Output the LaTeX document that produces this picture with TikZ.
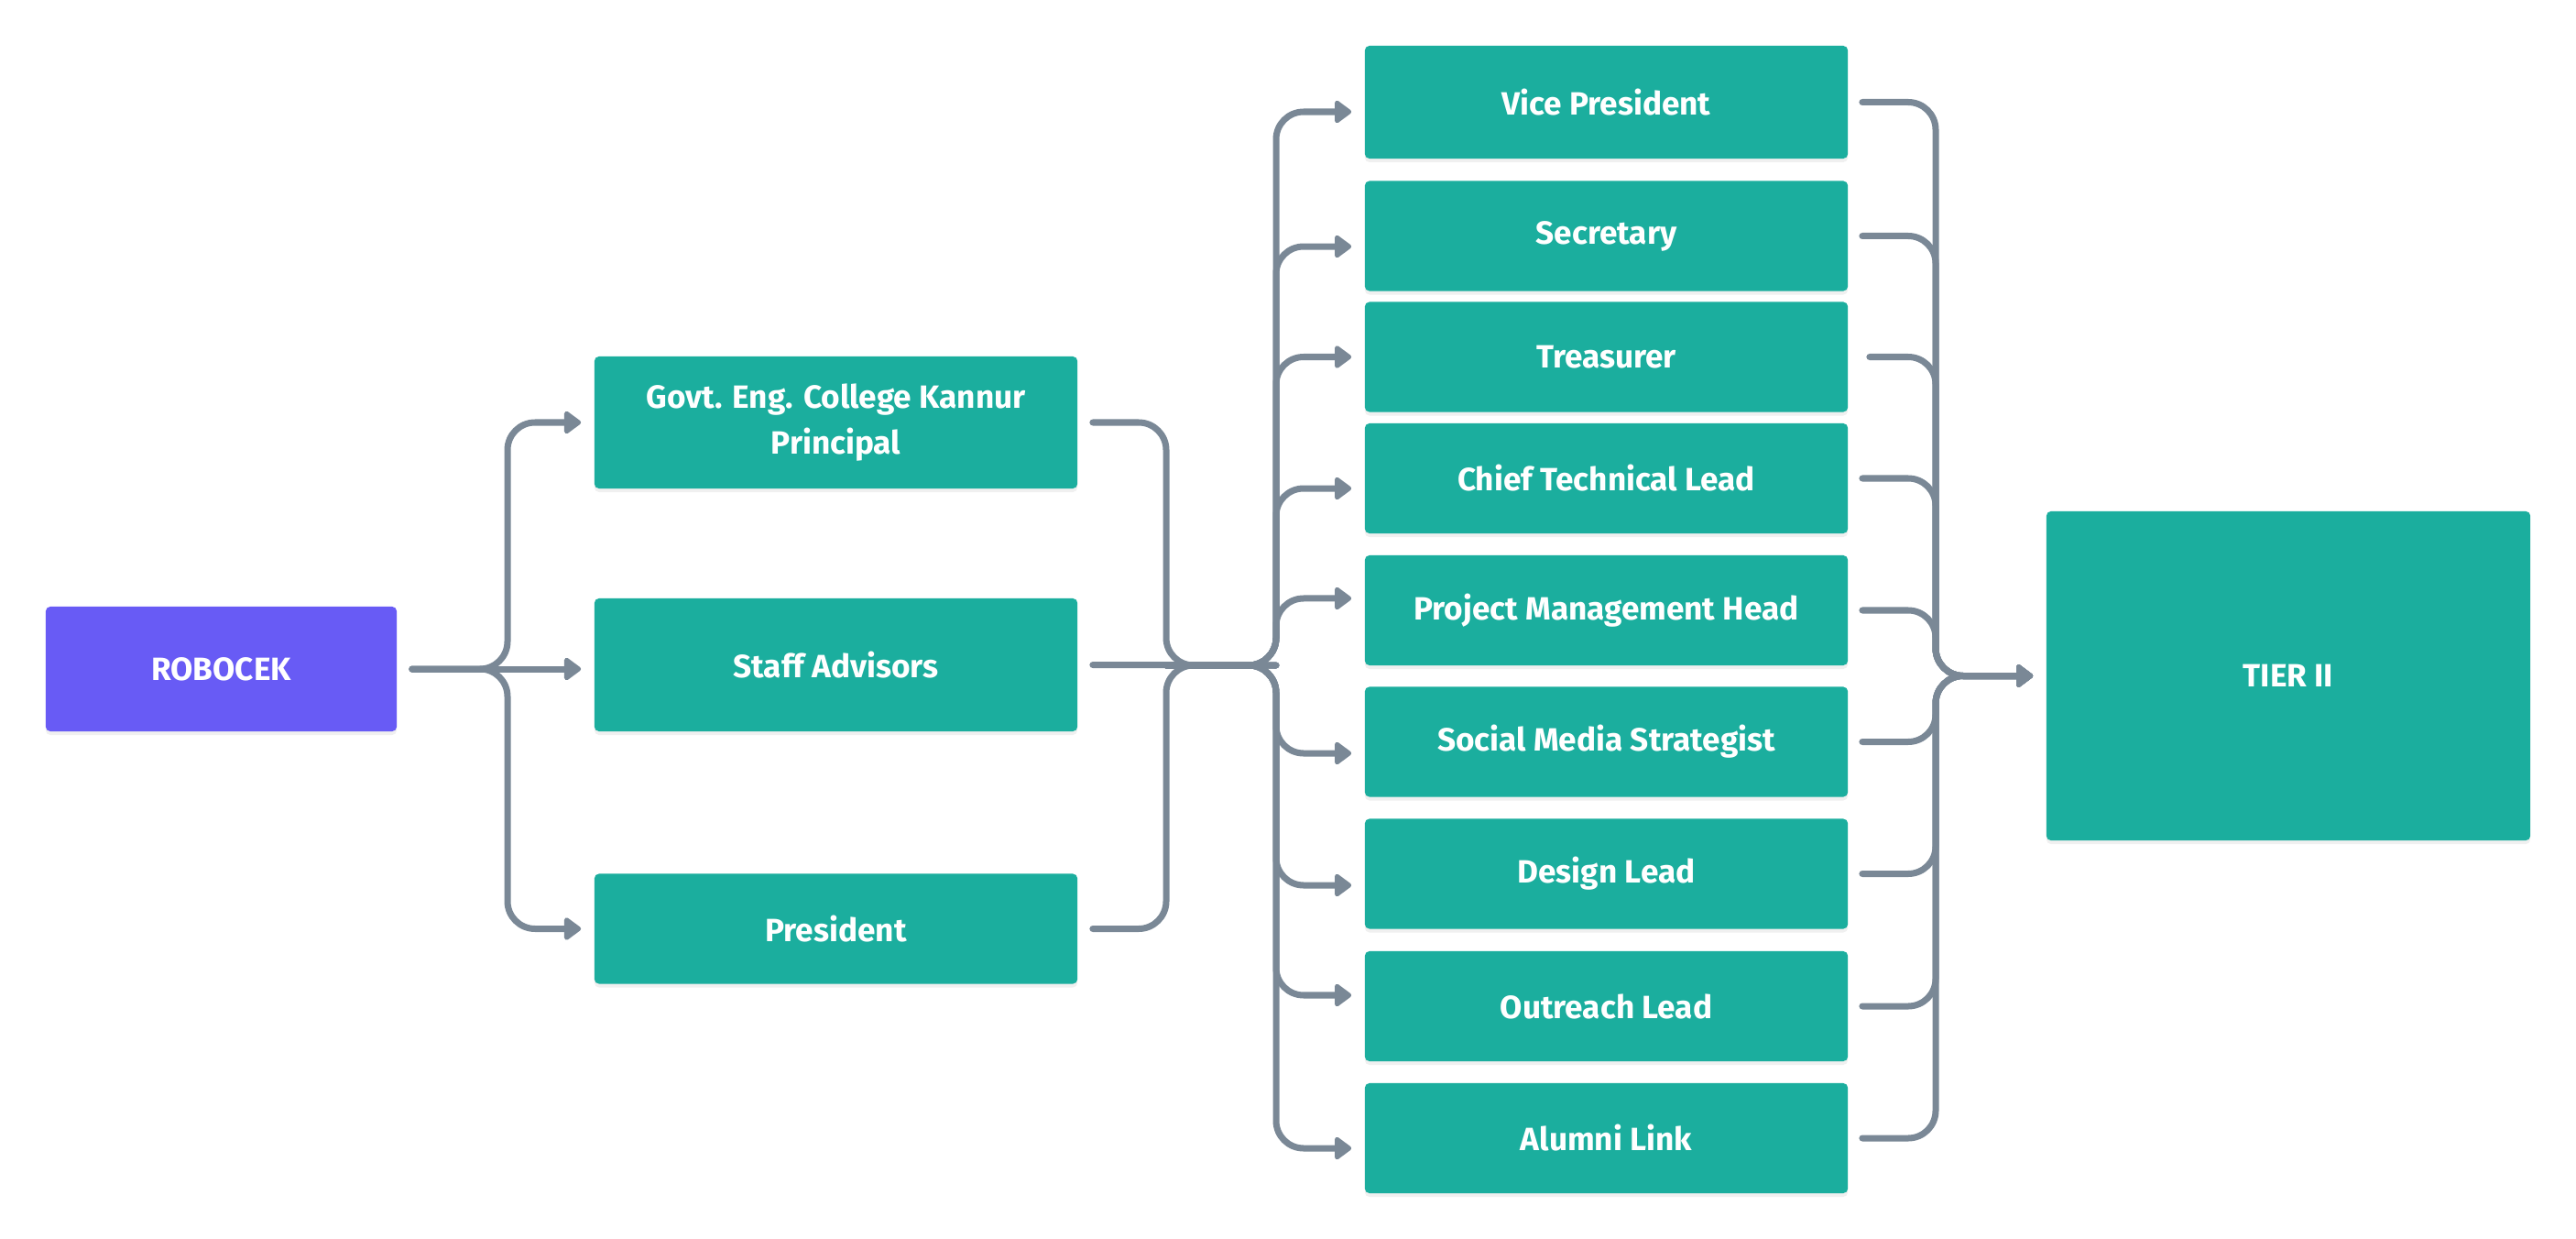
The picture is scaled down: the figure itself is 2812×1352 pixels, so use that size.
\documentclass[tikz,border=0pt]{standalone}
\usepackage{fontspec}
\setmainfont{Fira Sans}
\usetikzlibrary{arrows.meta,shadows}
\definecolor{teambox}{HTML}{1BAE9E}
\definecolor{rootbox}{HTML}{685BF5}
\definecolor{linkgray}{HTML}{7A8896}
\tikzset{
  unit/.style={fill=teambox, rounded corners=0.05cm, text=white,
    font=\bfseries\fontsize{10}{14}\selectfont, align=center, inner sep=0pt,
    minimum width=5.27cm, minimum height=1.2cm,
    drop shadow={opacity=0.12, shadow xshift=0cm, shadow yshift=-0.04cm}},
  link/.style={draw=linkgray, line width=0.07cm, line cap=round, rounded corners=0.3cm},
  arrowlink/.style={link, -{Triangle[length=0.2cm,width=0.28cm,round]}, shorten >=0.14cm}
}

\begin{document}
\begin{tikzpicture}[x=0.01cm,y=-0.01cm]
    \useasboundingbox (0,0) rectangle (2812,1352);
    % first tier
    \node[unit, fill=rootbox, minimum width=3.83cm, minimum height=1.36cm] (robocek) at (241.5,730) {ROBOCEK};
    \node[unit, minimum height=1.44cm] (principal) at (912.5,461) {Govt. Eng. College Kannur\\Principal};
    \node[unit, minimum height=1.45cm] (advisors) at (912.5,725.5) {Staff Advisors};
    \node[unit] (president) at (912.5,1013.5) {President};
    % office bearers
    \node[unit, minimum height=1.23cm] (vp) at (1753.5,111.5) {Vice President};
    \node[unit] (secretary) at (1753.5,257.5) {Secretary};
    \node[unit] (treasurer) at (1753.5,389.5) {Treasurer};
    \node[unit] (techlead) at (1753.5,522) {Chief Technical Lead};
    \node[unit] (pmhead) at (1753.5,666) {Project Management Head};
    \node[unit] (socialmedia) at (1753.5,809.5) {Social Media Strategist};
    \node[unit] (designlead) at (1753.5,953.5) {Design Lead};
    \node[unit] (outreach) at (1753.5,1098) {Outreach Lead};
    \node[unit] (alumni) at (1753.5,1242) {Alumni Link};
    \node[unit, minimum width=5.28cm, minimum height=3.59cm] (tier) at (2498,737.5) {TIER II};

    \coordinate (forkL) at (554,730);
    \coordinate (joinM) at (1273,726);
    \coordinate (forkM) at (1393,726);
    \coordinate (joinR) at (2113,737.5);

    % robocek to first tier
    \draw[arrowlink, shorten <=0.16cm] (robocek.east) -- (forkL) |- (principal.west);
    \draw[arrowlink, shorten <=0.16cm] (robocek.east) -- (advisors.west |- robocek.east);
    \draw[arrowlink, shorten <=0.16cm] (robocek.east) -- (forkL) |- (president.west);

    % first tier joins
    \draw[link, shorten <=0.16cm] (principal.east) -| (joinM) -- (forkM);
    \draw[link, shorten <=0.16cm] (advisors.east) -- (forkM);
    \draw[link, shorten <=0.16cm] (president.east) -| (joinM) -- (forkM);

    % fan out to office bearers
    \foreach \n/\dy in {vp/-0.105, secretary/-0.115, treasurer/0, techlead/-0.11, pmhead/0.13,
        socialmedia/-0.125, designlead/-0.125, outreach/0.12, alumni/-0.11}
        \draw[arrowlink] (joinM) -- (forkM) |- ([yshift=\dy cm]\n.west);

    % office bearers to tier II
    \foreach \n/\dx in {vp/0.15, secretary/0.15, treasurer/0.23, techlead/0.15, pmhead/0.15,
        socialmedia/0.15, designlead/0.15, outreach/0.15, alumni/0.15}
        \draw[arrowlink, shorten <=\dx cm] (\n.east) -| (joinR) -- (tier.west);
\end{tikzpicture}
\end{document}
